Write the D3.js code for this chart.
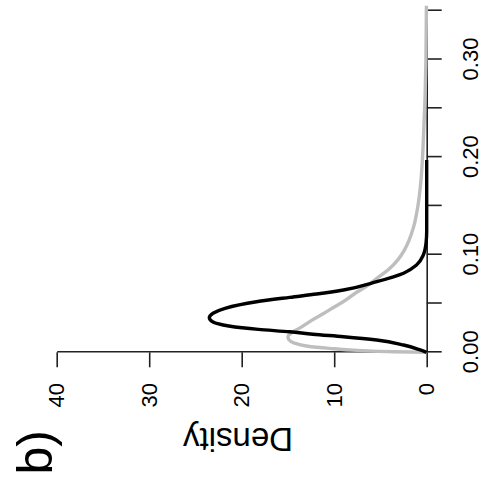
<!DOCTYPE html>
<html>
<head>
<meta charset="utf-8">
<script src="https://cdn.jsdelivr.net/npm/d3@7"></script>
<style>
  html, body { margin: 0; padding: 0; background: #ffffff; }
  svg { display: block; }
  text { font-family: "Liberation Sans", Arial, Helvetica, sans-serif; fill: #000; }
</style>
</head>
<body>
<svg id="chart" width="481" height="482"></svg>
<script>
// ---- data ----
const blackX = [0, 0.0024, 0.0075, 0.0126, 0.016, 0.0185, 0.021, 0.0235, 0.027, 0.031, 0.0355, 0.040, 0.0451, 0.0518, 0.0563, 0.0597, 0.0638, 0.0723, 0.081, 0.0894, 0.0997, 0.112, 0.124, 0.16, 0.197];
const blackY = [0, 0.7, 2.5, 5.4, 9.0, 12.3, 14.8, 18.2, 21.4, 23.1, 23.5, 23.1, 21.8, 18.4, 14.8, 11.9, 9.0, 5.4, 2.5, 1.1, 0.37, 0.07, 0.0, 0.0, 0.0];

const grayX = [0, 0.0006, 0.002, 0.004, 0.0065, 0.0095, 0.013, 0.016, 0.020, 0.025, 0.033, 0.040, 0.047, 0.052, 0.060, 0.067, 0.075, 0.085, 0.095, 0.105, 0.115, 0.129, 0.150, 0.173, 0.200, 0.220, 0.260, 0.300, 0.355];
const grayY = [0, 3.5, 7.5, 10.5, 13.0, 14.3, 14.9, 15.0, 14.6, 13.7, 12.4, 11.1, 9.9, 9.0, 7.8, 6.6, 5.5, 4.1, 3.1, 2.4, 1.9, 1.4, 0.95, 0.65, 0.45, 0.35, 0.18, 0.08, 0.03];

const xTickValues = [0, 0.05, 0.10, 0.15, 0.20, 0.25, 0.30, 0.35];
const xTickLabels = ["0.00", "", "0.10", "", "0.20", "", "0.30", ""];
const densTickValues = [0, 10, 20, 30, 40];
const densTickLabels = ["0", "10", "20", "30", "40"];
const yTitle = "Density";
const panelLabel = "b)";

// ---- layout (chart is drawn upright, then rotated a quarter turn) ----
const svg = d3.select("#chart");
const g = svg.append("g").attr("transform", "translate(0,482) rotate(-90)");

const x = d3.scaleLinear().domain([0, 0.35]).range([129.7, 471.3]);
const y = d3.scaleLinear().domain([0, 40]).range([426.7, 56.7]);

const axisColor = "#222";

const xAxis = g.append("g")
  .attr("transform", `translate(0,${y(0)})`)
  .call(d3.axisBottom(x)
    .tickValues(xTickValues)
    .tickFormat((d, i) => xTickLabels[i])
    .tickSize(15).tickSizeOuter(0).tickPadding(20.8));

const yAxis = g.append("g")
  .attr("transform", `translate(${x(0)},0)`)
  .call(d3.axisLeft(y)
    .tickValues(densTickValues)
    .tickFormat((d, i) => densTickLabels[i])
    .tickSize(15).tickSizeOuter(0).tickPadding(15.7));

[xAxis, yAxis].forEach(a => {
  a.select(".domain").attr("stroke", axisColor).attr("stroke-width", 1.6);
  a.selectAll(".tick line").attr("stroke", axisColor).attr("stroke-width", 1.6);
  a.selectAll(".tick text")
    .attr("fill", "#000")
    .style("font-family", '"Liberation Sans", Arial, Helvetica, sans-serif')
    .style("font-size", "22px");
});

const line = d3.line()
  .x(d => x(d[0]))
  .y(d => y(d[1]))
  .curve(d3.curveMonotoneX);

g.append("path")
  .datum(grayX.map((v, i) => [v, grayY[i]]))
  .attr("d", line)
  .attr("fill", "none")
  .attr("stroke", "#bebebe")
  .attr("stroke-width", 3.4)
  .attr("stroke-linejoin", "round");

g.append("path")
  .datum(blackX.map((v, i) => [v, blackY[i]]))
  .attr("d", line)
  .attr("fill", "none")
  .attr("stroke", "#000")
  .attr("stroke-width", 3.4)
  .attr("stroke-linejoin", "round");

// y-axis title
g.append("text")
  .attr("transform", "translate(54,238) rotate(-90)")
  .attr("text-anchor", "middle")
  .style("font-size", "33px")
  .text(yTitle);

// panel label
g.append("text")
  .attr("x", 7.5)
  .attr("y", 51.5)
  .attr("text-anchor", "start")
  .style("font-size", "50px")
  .text(panelLabel);
</script>
</body>
</html>
